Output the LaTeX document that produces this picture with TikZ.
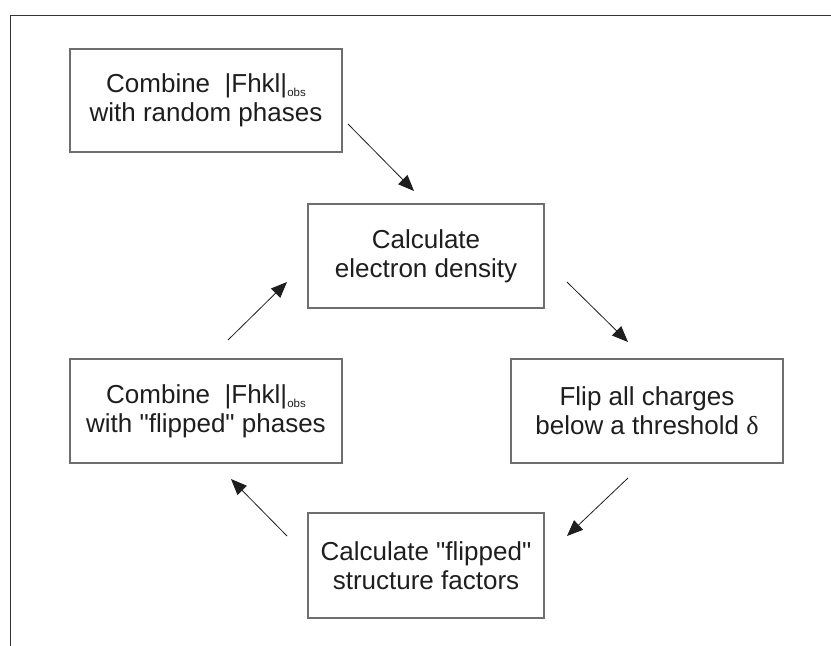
\documentclass[tikz,border=0pt]{standalone}
\usepackage{fontspec}
\setmainfont{Liberation Sans}[Ligatures=TeXOff]
\newfontfamily\greekserif{Liberation Serif}
\usetikzlibrary{arrows.meta}
\definecolor{ink}{HTML}{1E1E1E}
\definecolor{boxline}{HTML}{6E6E6E}
\definecolor{frameline}{HTML}{333333}
\newcommand{\obsidx}{\raisebox{-4pt}{\fontsize{11.5}{11.5}\selectfont obs}}
\begin{document}
\begin{tikzpicture}[x=1pt,y=-1pt,
  stepbox/.style={draw=boxline,line width=1.2pt,rectangle,align=center,
    text=ink,inner sep=0pt,
    font=\fontsize{26}{29}\selectfont},
  flow/.style={draw=ink,line width=0.8pt,
    -{Triangle[length=16pt,width=13pt]}}]
\useasboundingbox (0,0) rectangle (831,646);
% outer frame (only top and left sides visible)
\draw[frameline,line width=1pt] (831,15) -- (10,15) -- (10,646);

% process steps
\node[stepbox,minimum width=272pt,minimum height=103pt] (init) at (206,100.5)
  {Combine\ \ |Fhkl|\obsidx\\with random phases};
\node[stepbox,minimum width=236pt,minimum height=104pt] (dens) at (426,256)
  {Calculate\\electron density};
\node[stepbox,minimum width=272pt,minimum height=104pt] (flip) at (647,411)
  {Flip all charges\\below a threshold {\greekserif δ}};
\node[stepbox,minimum width=236pt,minimum height=105pt] (sfac) at (426,565.5)
  {Calculate "flipped"\\structure factors};
\node[stepbox,minimum width=272pt,minimum height=104pt] (comb) at (206,411)
  {Combine\ \ |Fhkl|\obsidx\\with "flipped" phases};

% connector end points, placed just off the boxes
\coordinate (a1s) at (348,124);  \coordinate (a1e) at (414,191);
\coordinate (a2s) at (567,282);  \coordinate (a2e) at (628,342);
\coordinate (a3s) at (628,478);  \coordinate (a3e) at (567,536);
\coordinate (a4s) at (287,536);  \coordinate (a4e) at (231,479);
\coordinate (a5s) at (228,340);  \coordinate (a5e) at (287,282);

\draw[flow] (a1s) -- (a1e);
\draw[flow] (a2s) -- (a2e);
\draw[flow] (a3s) -- (a3e);
\draw[flow] (a4s) -- (a4e);
\draw[flow] (a5s) -- (a5e);
\end{tikzpicture}
\end{document}
